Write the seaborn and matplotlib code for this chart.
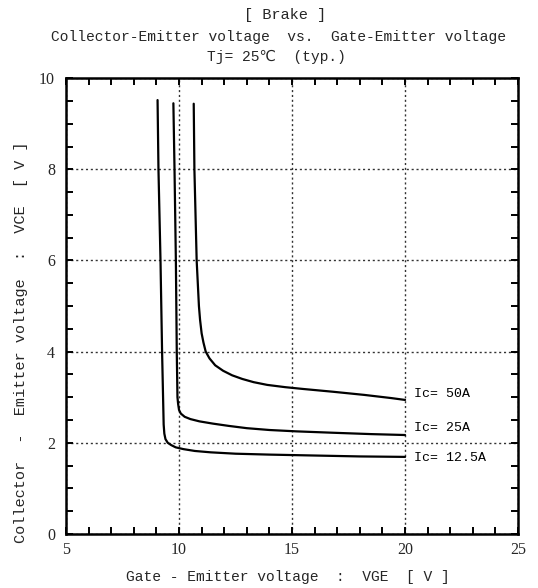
import matplotlib
matplotlib.use("Agg")
import matplotlib.pyplot as plt
import seaborn as sns
import pandas as pd
from matplotlib.ticker import MultipleLocator

sns.set_style("ticks")
plt.rcParams['font.family'] = ['Liberation Mono', 'DejaVu Sans']

# Data
vge_12 = [9.05, 9.09, 9.18, 9.25, 9.32, 9.35, 9.40, 9.50, 9.65, 9.85, 10.2, 10.7, 11.4, 12.5, 14.0, 16.0, 18.0, 20.0]
vce_12 = [9.52, 8.0, 6.0, 4.0, 2.4, 2.2, 2.08, 2.0, 1.95, 1.90, 1.86, 1.82, 1.79, 1.76, 1.74, 1.72, 1.70, 1.69]

vge_25 = [9.75, 9.80, 9.86, 9.90, 9.93, 9.96, 10.0, 10.08, 10.25, 10.5, 10.9, 11.5, 12.2, 13.0, 14.0, 15.2, 16.8, 18.5, 20.0]
vce_25 = [9.45, 8.0, 6.0, 4.0, 3.0, 2.85, 2.72, 2.64, 2.57, 2.52, 2.47, 2.42, 2.37, 2.32, 2.28, 2.25, 2.22, 2.19, 2.17]

vge_50 = [10.65, 10.68, 10.78, 10.88, 10.93, 11.0, 11.08, 11.18, 11.35, 11.6, 11.95, 12.35, 12.8, 13.3, 13.9, 14.7, 15.5, 16.8, 18.2, 19.4, 20.0]
vce_50 = [9.44, 8.0, 6.0, 5.0, 4.7, 4.4, 4.2, 4.0, 3.85, 3.70, 3.58, 3.48, 3.40, 3.33, 3.27, 3.22, 3.18, 3.12, 3.05, 2.98, 2.94]

curve_labels = ["Ic= 50A", "Ic= 25A", "Ic= 12.5A"]
label_y = [3.07, 2.32, 1.66]
label_x = 20.4

x_ticks = [5, 10, 15, 20, 25]
y_ticks = [0, 2, 4, 6, 8, 10]

fig = plt.figure(figsize=(5.38, 5.88), dpi=100)
ax = fig.add_axes([0.1227, 0.092, 0.963 - 0.1227, 0.867 - 0.092])

for vg, vc in [(vge_50, vce_50), (vge_25, vce_25), (vge_12, vce_12)]:
    df = pd.DataFrame({"VGE": vg, "VCE": vc})
    sns.lineplot(data=df, x="VGE", y="VCE", sort=False, estimator=None,
                 color="black", linewidth=1.6, ax=ax)

for lab, ly in zip(curve_labels, label_y):
    ax.text(label_x, ly, lab, fontsize=9.5, va="center", ha="left", color="black")

ax.set_xlim(5, 25)
ax.set_ylim(0, 10)
ax.set_xticks(x_ticks)
ax.set_yticks(y_ticks)
ax.xaxis.set_minor_locator(MultipleLocator(1))
ax.yaxis.set_minor_locator(MultipleLocator(0.5))
ax.tick_params(which="both", direction="in", top=True, right=True,
               length=5, width=1.4, color="black")
for lab in ax.get_xticklabels() + ax.get_yticklabels():
    lab.set_fontfamily(['Liberation Serif', 'DejaVu Serif'])
    lab.set_fontsize(11.5)
ax.tick_params(axis="x", pad=6)
ax.tick_params(axis="y", pad=8)

ax.grid(True, which="major", linestyle=(0, (1.5, 2)), color="#333333", linewidth=1.0)
for s in ax.spines.values():
    s.set_linewidth(1.8)
    s.set_color("black")

ax.set_xlabel("Gate - Emitter voltage  :  VGE  [ V ]", fontsize=10.5)
ax.set_ylabel("Collector  -  Emitter voltage  :  VCE  [ V ]", fontsize=11)
ax.xaxis.set_label_coords(0.49, -0.08)
ax.yaxis.set_label_coords(-0.084, 0.42)

fig.text(0.53, 0.975, "[ Brake ]", ha="center", va="center", fontsize=11)
fig.text(0.518, 0.937, "Collector-Emitter voltage  vs.  Gate-Emitter voltage",
         ha="center", va="center", fontsize=10.5)
fig.text(0.513, 0.903, "Tj= 25℃  (typ.)", ha="center", va="center", fontsize=10.5,
         family=['Liberation Mono', 'DejaVu Sans'])

fig.savefig("out.png", dpi=100)
